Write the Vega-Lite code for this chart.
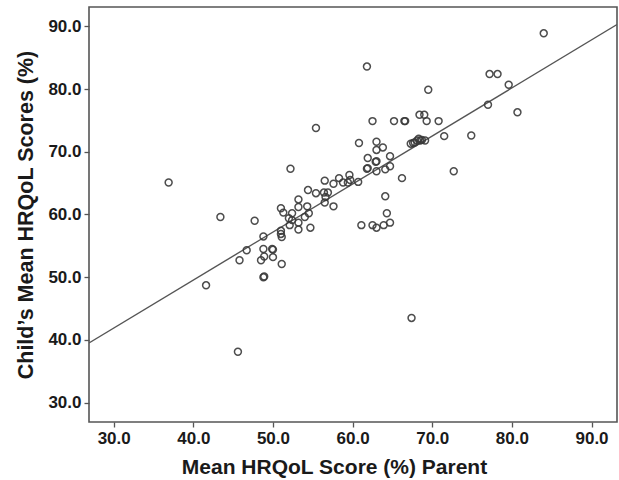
{
  "$schema": "https://vega.github.io/schema/vega-lite/v6.json",
  "width": 528,
  "height": 415,
  "autosize": {"type": "none"},
  "padding": {"left": 89, "top": 7, "right": 2, "bottom": 58},
  "background": "white",
  "config": {
    "view": {"stroke": "#555555", "strokeWidth": 1.6},
    "axis": {
      "grid": false,
      "domain": false,
      "ticks": true,
      "tickColor": "#555555",
      "tickSize": 5,
      "tickWidth": 1.3,
      "labelFont": "Liberation Sans",
      "labelFontWeight": "bold",
      "labelFontSize": 17,
      "labelColor": "#1a1a1a",
      "labelPadding": 3,
      "titleFont": "Liberation Sans",
      "titleFontWeight": "bold",
      "titleFontSize": 21,
      "titleColor": "#1a1a1a"
    }
  },
  "datasets": {
    "points": [
      {"parent": 36.9, "child": 65.1},
      {"parent": 43.4, "child": 59.6},
      {"parent": 41.6, "child": 48.7},
      {"parent": 45.6, "child": 38.1},
      {"parent": 47.7, "child": 59.0},
      {"parent": 46.7, "child": 54.3},
      {"parent": 45.8, "child": 52.7},
      {"parent": 48.8, "child": 56.5},
      {"parent": 48.8, "child": 54.5},
      {"parent": 48.9, "child": 53.3},
      {"parent": 48.5, "child": 52.7},
      {"parent": 48.8, "child": 50.0},
      {"parent": 48.9, "child": 50.1},
      {"parent": 49.9, "child": 54.5},
      {"parent": 50.0, "child": 54.4},
      {"parent": 50.0, "child": 53.2},
      {"parent": 51.1, "child": 52.1},
      {"parent": 51.0, "child": 61.0},
      {"parent": 51.3, "child": 60.3},
      {"parent": 51.0, "child": 57.4},
      {"parent": 51.0, "child": 56.9},
      {"parent": 51.1, "child": 56.4},
      {"parent": 52.2, "child": 67.3},
      {"parent": 52.4, "child": 60.2},
      {"parent": 52.0, "child": 59.4},
      {"parent": 52.1, "child": 58.3},
      {"parent": 52.4, "child": 59.1},
      {"parent": 53.2, "child": 62.4},
      {"parent": 53.2, "child": 61.2},
      {"parent": 53.2, "child": 58.7},
      {"parent": 53.2, "child": 57.6},
      {"parent": 54.3, "child": 61.3},
      {"parent": 54.4, "child": 63.9},
      {"parent": 54.5, "child": 60.2},
      {"parent": 54.0, "child": 59.6},
      {"parent": 54.7, "child": 57.9},
      {"parent": 55.4, "child": 63.4},
      {"parent": 55.4, "child": 73.8},
      {"parent": 56.5, "child": 65.4},
      {"parent": 56.4, "child": 63.5},
      {"parent": 56.9, "child": 63.5},
      {"parent": 56.6, "child": 62.8},
      {"parent": 56.5, "child": 61.9},
      {"parent": 57.6, "child": 61.3},
      {"parent": 57.6, "child": 64.9},
      {"parent": 58.3, "child": 65.8},
      {"parent": 58.8, "child": 65.1},
      {"parent": 59.6, "child": 66.3},
      {"parent": 59.7, "child": 65.5},
      {"parent": 59.4, "child": 65.1},
      {"parent": 60.7, "child": 65.2},
      {"parent": 60.8, "child": 71.4},
      {"parent": 61.1, "child": 58.3},
      {"parent": 61.8, "child": 83.6},
      {"parent": 62.5, "child": 74.9},
      {"parent": 61.9, "child": 69.0},
      {"parent": 61.8, "child": 67.3},
      {"parent": 61.9, "child": 67.4},
      {"parent": 63.0, "child": 71.6},
      {"parent": 63.0, "child": 70.3},
      {"parent": 63.0, "child": 68.5},
      {"parent": 62.9, "child": 68.4},
      {"parent": 63.0, "child": 66.9},
      {"parent": 63.8, "child": 70.7},
      {"parent": 62.5, "child": 58.3},
      {"parent": 63.0, "child": 57.9},
      {"parent": 64.1, "child": 62.9},
      {"parent": 64.3, "child": 60.2},
      {"parent": 63.9, "child": 58.3},
      {"parent": 64.7, "child": 58.7},
      {"parent": 64.7, "child": 69.3},
      {"parent": 64.7, "child": 67.7},
      {"parent": 64.1, "child": 67.2},
      {"parent": 65.2, "child": 74.9},
      {"parent": 66.5, "child": 74.9},
      {"parent": 66.6, "child": 74.9},
      {"parent": 66.2, "child": 65.8},
      {"parent": 67.4, "child": 43.5},
      {"parent": 67.3, "child": 71.3},
      {"parent": 67.6, "child": 71.4},
      {"parent": 67.8, "child": 71.5},
      {"parent": 68.1, "child": 71.8},
      {"parent": 68.3, "child": 72.1},
      {"parent": 68.5, "child": 71.8},
      {"parent": 68.7, "child": 71.9},
      {"parent": 69.1, "child": 71.8},
      {"parent": 68.4, "child": 75.9},
      {"parent": 69.0, "child": 75.9},
      {"parent": 69.3, "child": 74.9},
      {"parent": 69.5, "child": 79.9},
      {"parent": 70.8, "child": 74.9},
      {"parent": 71.5, "child": 72.5},
      {"parent": 72.7, "child": 66.9},
      {"parent": 74.9, "child": 72.6},
      {"parent": 77.0, "child": 77.5},
      {"parent": 77.2, "child": 82.4},
      {"parent": 78.2, "child": 82.4},
      {"parent": 79.6, "child": 80.7},
      {"parent": 80.7, "child": 76.3},
      {"parent": 84.0, "child": 88.9}
    ],
    "fit": [
      {"parent": 26.9, "child": 39.5},
      {"parent": 93.2, "child": 90.3}
    ]
  },
  "layer": [
    {
      "data": {"name": "fit"},
      "mark": {"type": "line", "stroke": "#555555", "strokeWidth": 1.4, "clip": true},
      "encoding": {
        "x": {"field": "parent", "type": "quantitative"},
        "y": {"field": "child", "type": "quantitative"}
      }
    },
    {
      "data": {"name": "points"},
      "mark": {"type": "point", "shape": "circle", "filled": false, "stroke": "#3a3a3a", "strokeWidth": 1.5, "size": 48, "opacity": 0.9},
      "encoding": {
        "x": {
          "field": "parent",
          "type": "quantitative",
          "title": "Mean HRQoL Score (%) Parent",
          "scale": {"domain": [26.9, 93.2], "nice": false, "zero": false},
          "axis": {"values": [30, 40, 50, 60, 70, 80, 90], "format": ".1f", "titlePadding": 10, "titleX": 245}
        },
        "y": {
          "field": "child",
          "type": "quantitative",
          "title": "Child’s Mean HRQoL Scores (%)",
          "scale": {"domain": [26.9, 93.1], "nice": false, "zero": false},
          "axis": {"values": [30, 40, 50, 60, 70, 80, 90], "format": ".1f", "titlePadding": 10, "titleFontSize": 21.5}
        }
      }
    }
  ]
}
